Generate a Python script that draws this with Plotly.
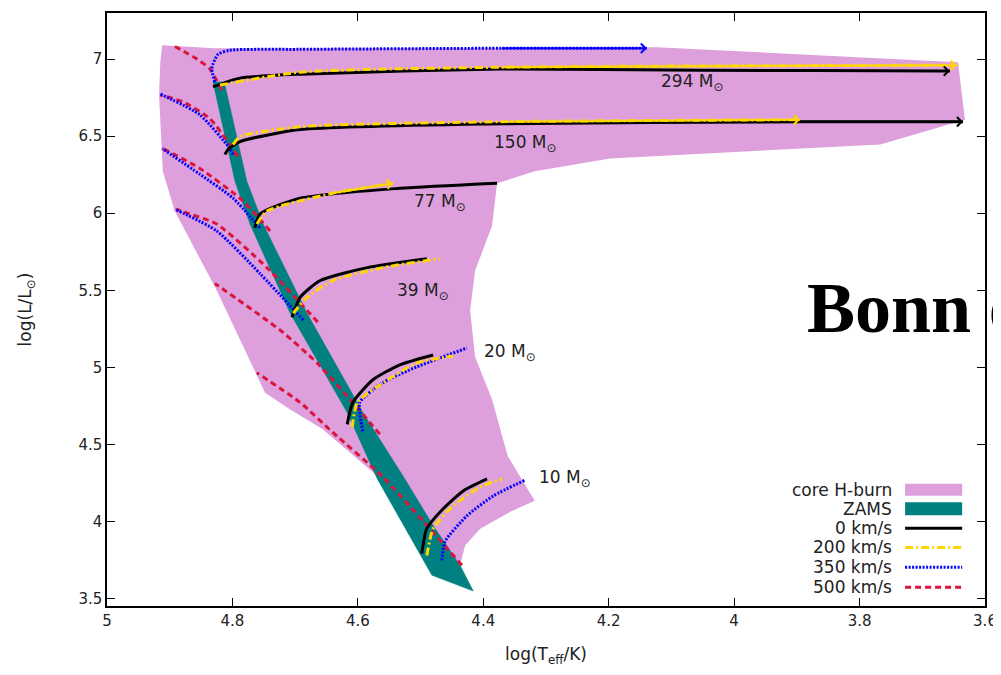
import plotly.graph_objects as go

# ---------------- data (log Teff, log L) ----------------
hburn_logT = [4.912, 4.828, 4.123, 3.643, 3.632, 3.767, 4.198, 4.318, 4.378, 4.386, 4.413, 4.421,
              4.413, 4.386, 4.361, 4.318, 4.357, 4.405, 4.429, 4.437, 4.485, 4.569, 4.656, 4.708,
              4.748, 4.825, 4.892, 4.911, 4.917, 4.915, 4.912]
hburn_logL = [7.090, 7.071, 7.077, 6.981, 6.607, 6.446, 6.356, 6.272, 6.195, 5.918, 5.628, 5.370,
              5.067, 4.790, 4.423, 4.133, 4.062, 3.952, 3.843, 3.714, 3.727, 4.294, 4.597, 4.726,
              4.835, 5.499, 6.014, 6.272, 6.768, 6.981, 7.090]

zams_logT = [4.831, 4.796, 4.772, 4.708, 4.617, 4.569, 4.482, 4.416, 4.437, 4.480, 4.525, 4.592,
             4.681, 4.751, 4.777, 4.813, 4.831]
zams_logL = [6.852, 6.208, 5.930, 5.351, 4.706, 4.275, 3.650, 3.547, 3.714, 3.972, 4.275, 4.706,
             5.351, 5.930, 6.208, 6.852, 6.852]

masses = [294, 150, 77, 39, 20, 10]
label_logT = [4.066, 4.333, 4.469, 4.496, 4.357, 4.270]
label_logL = [6.852, 6.452, 6.072, 5.492, 5.099, 4.275]

# 0 km/s
v0_logT = {
    294: [4.831, 4.788, 4.692, 4.373, 4.054, 3.672, 3.656],
    150: [4.812, 4.807, 4.788, 4.692, 4.373, 3.895, 3.635],
    77: [4.764, 4.756, 4.692, 4.533, 4.378],
    39: [4.705, 4.692, 4.660, 4.585, 4.490],
    20: [4.617, 4.608, 4.576, 4.533, 4.480],
    10: [4.498, 4.490, 4.464, 4.432, 4.394],
}
v0_logL = {
    294: [6.820, 6.877, 6.903, 6.936, 6.929, 6.923, 6.923],
    150: [6.381, 6.414, 6.465, 6.543, 6.581, 6.594, 6.594],
    77: [5.905, 5.995, 6.098, 6.162, 6.195],
    39: [5.325, 5.454, 5.563, 5.647, 5.705],
    20: [4.629, 4.771, 4.919, 5.016, 5.080],
    10: [3.791, 3.952, 4.081, 4.197, 4.275],
}
# 200 km/s
v200_logT = {
    294: [4.820, 4.692, 4.373, 3.645],
    150: [4.799, 4.788, 4.692, 4.373, 3.895],
    77: [4.761, 4.745, 4.640, 4.544],
    39: [4.703, 4.681, 4.640, 4.560, 4.469],
    20: [4.609, 4.601, 4.569, 4.506, 4.448],
    10: [4.490, 4.480, 4.448, 4.405, 4.370],
}
v200_logL = {
    294: [6.832, 6.916, 6.948, 6.961],
    150: [6.446, 6.497, 6.562, 6.594, 6.607],
    77: [5.930, 6.014, 6.130, 6.195],
    39: [5.351, 5.454, 5.563, 5.647, 5.705],
    20: [4.610, 4.771, 4.874, 5.028, 5.073],
    10: [3.778, 3.952, 4.101, 4.223, 4.275],
}
# 350 km/s
v350_logT = {
    294: [4.828, 4.833, 4.831, 4.823, 4.804, 4.692, 4.373, 4.139],
    150: [4.799, 4.804, 4.852, 4.915],
    77: [4.756, 4.799, 4.852, 4.912],
    39: [4.687, 4.756, 4.825, 4.892],
    20: [4.592, 4.597, 4.560, 4.506, 4.426],
    10: [4.466, 4.461, 4.426, 4.384, 4.333],
}
v350_logL = {
    294: [6.852, 6.936, 6.968, 7.032, 7.058, 7.064, 7.071, 7.071],
    150: [6.381, 6.420, 6.639, 6.774],
    77: [5.905, 6.098, 6.253, 6.420],
    39: [5.306, 5.608, 5.885, 6.027],
    20: [4.584, 4.771, 4.900, 5.003, 5.125],
    10: [3.746, 3.869, 4.036, 4.165, 4.268],
}
# 500 km/s
v500_logT = {
    294: [4.817, 4.836, 4.856, 4.895],
    150: [4.791, 4.836, 4.879, 4.915],
    77: [4.740, 4.783, 4.852, 4.911],
    39: [4.664, 4.745, 4.825, 4.872, 4.890],
    20: [4.565, 4.608, 4.665, 4.724, 4.828],
    10: [4.434, 4.560, 4.640, 4.692, 4.761],
}
v500_logL = {
    294: [6.800, 6.936, 7.000, 7.090],
    150: [6.369, 6.614, 6.723, 6.768],
    77: [5.885, 6.079, 6.291, 6.420],
    39: [5.293, 5.647, 5.930, 6.001, 6.027],
    20: [4.565, 4.771, 5.028, 5.241, 5.544],
    10: [3.714, 4.287, 4.577, 4.771, 4.964],
}

legend_labels = ["core H-burn", "ZAMS", "0 km/s", "200 km/s", "350 km/s", "500 km/s"]

# ---------------- styles ----------------
PLUM = "#dda0dd"
TEAL = "#008080"
BLACK = "#000000"
GOLD = "#ffd700"
BLUE = "#0000ff"
RED = "#dc143c"
FONT = "DejaVu Sans"
TXT = "#222222"

fig = go.Figure()

fig.add_trace(go.Scatter(x=hburn_logT, y=hburn_logL, mode="lines", fill="toself",
                         fillcolor=PLUM, line=dict(width=0, color=PLUM), hoverinfo="skip"))
fig.add_trace(go.Scatter(x=zams_logT, y=zams_logL, mode="lines", fill="toself",
                         fillcolor=TEAL, line=dict(width=0.5, color=TEAL), hoverinfo="skip"))

DASH_Y = "8px,3px,2px,3px"
DASH_B = "2px,1.5px"
DASH_R = "6px,4px"
series = [
    (v500_logT, v500_logL, RED, DASH_R, 3),
    (v350_logT, v350_logL, BLUE, DASH_B, 3),
    (v0_logT, v0_logL, BLACK, "solid", 3),
    (v200_logT, v200_logL, GOLD, DASH_Y, 3),
]
for tx, ty, col, dash, w in series:
    for m in masses:
        fig.add_trace(go.Scatter(x=tx[m], y=ty[m], mode="lines",
                                 line=dict(color=col, width=w, dash=dash, shape="spline", smoothing=0.6),
                                 hoverinfo="skip"))

# arrow heads at track ends
arrow_ends = [(v350_logT, v350_logL, 294, BLUE), (v200_logT, v200_logL, 294, GOLD),
              (v0_logT, v0_logL, 294, BLACK), (v200_logT, v200_logL, 150, GOLD),
              (v0_logT, v0_logL, 150, BLACK), (v200_logT, v200_logL, 77, GOLD)]
for tx, ty, m, col in arrow_ends:
    fig.add_annotation(x=tx[m][-1], y=ty[m][-1], ax=tx[m][-2], ay=ty[m][-2],
                       xref="x", yref="y", axref="x", ayref="y", text="",
                       showarrow=True, arrowhead=4, arrowsize=0.9, arrowwidth=2,
                       arrowcolor=col, standoff=0)

# mass labels
for m, lx, ly in zip(masses, label_logT, label_logL):
    fig.add_annotation(x=lx, y=ly, xref="x", yref="y", text=f"{m} M<sub>⊙</sub>",
                       showarrow=False, font=dict(family=FONT, size=17, color=TXT))

# custom legend (text, then sample to its right)
rows_y = [0.196, 0.164, 0.131, 0.0988, 0.0653, 0.0318]
for lab, yy in zip(legend_labels, rows_y):
    fig.add_annotation(x=0.896, y=yy, xref="paper", yref="paper", text=lab, showarrow=False,
                       xanchor="right", yanchor="middle",
                       font=dict(family=FONT, size=17, color=TXT))
x0s, x1s = 0.909, 0.974
fig.add_shape(type="rect", xref="paper", yref="paper", x0=x0s, x1=x1s,
              y0=rows_y[0] - 0.010, y1=rows_y[0] + 0.010, fillcolor=PLUM, line=dict(width=0))
fig.add_shape(type="rect", xref="paper", yref="paper", x0=x0s, x1=x1s,
              y0=rows_y[1] - 0.011, y1=rows_y[1] + 0.011, fillcolor=TEAL, line=dict(width=0))
for yy, col, dash in [(rows_y[2], BLACK, "solid"), (rows_y[3], GOLD, DASH_Y),
                      (rows_y[4], BLUE, DASH_B), (rows_y[5], RED, DASH_R)]:
    fig.add_shape(type="line", xref="paper", yref="paper", x0=x0s, x1=x1s, y0=yy, y1=yy,
                  line=dict(color=col, width=3, dash=dash))

# overlay title text (cut off at right edge of the page)
fig.add_annotation(x=0.795, y=0.503, xref="paper", yref="paper", text="<b>Bonn evolutionary code</b>",
                   showarrow=False, xanchor="left", yanchor="middle",
                   font=dict(family="Liberation Serif", size=72, color="#000000"))

axis_common = dict(showline=True, linecolor="#000000", linewidth=1.5, mirror="allticks",
                   ticks="inside", ticklen=8, tickwidth=1, tickcolor="#000000",
                   showgrid=False, zeroline=False,
                   tickfont=dict(family=FONT, size=15, color=TXT))
fig.update_xaxes(range=[5, 3.6], tickvals=[5, 4.8, 4.6, 4.4, 4.2, 4.0, 3.8, 3.6],
                 ticktext=["5", "4.8", "4.6", "4.4", "4.2", "4", "3.8", "3.6"],
                 title=dict(text="log(T<sub>eff</sub>/K)", font=dict(family=FONT, size=17, color=TXT),
                            standoff=22),
                 **axis_common)
fig.update_yaxes(range=[3.45, 7.3], tickvals=[3.5, 4, 4.5, 5, 5.5, 6, 6.5, 7],
                 ticktext=["3.5", "4", "4.5", "5", "5.5", "6", "6.5", "7"],
                 title=dict(text="log(L/L<sub>⊙</sub>)", font=dict(family=FONT, size=17, color=TXT),
                            standoff=42),
                 **axis_common)

# page body has an 8px margin, so the figure is sized/offset to compensate
fig.update_layout(width=993, height=659, showlegend=False,
                  plot_bgcolor="#ffffff", paper_bgcolor="#ffffff",
                  margin=dict(l=99, r=16, t=3, b=59))

fig.write_html("out.html")
